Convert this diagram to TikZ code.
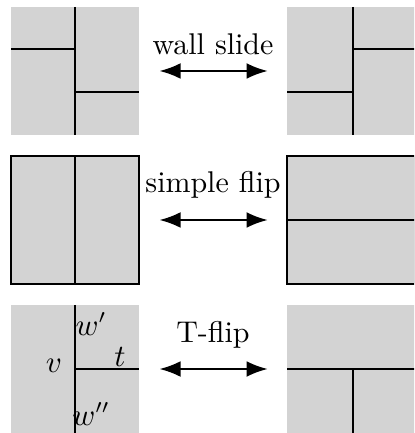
\documentclass[tikz,border=0pt]{standalone}
\usetikzlibrary{arrows.meta}
\definecolor{tilegray}{RGB}{211,211,211}
\begin{document}
\begin{tikzpicture}[x=0.3535pt,y=-0.3535pt,
  font=\fontsize{10.6}{12.7}\selectfont,
  tile/.style={fill=tilegray,draw=none,minimum size=45.25pt,inner sep=0pt,outer sep=0pt},
  btile/.style={tile,draw=black,line width=0.7pt},
  wall/.style={line width=0.7pt},
  move/.style={{Latex[length=7.5pt,width=5.6pt]}-{Latex[length=7.5pt,width=5.6pt]},line width=0.8pt,shorten <=7.2pt,shorten >=6.8pt},
  lab/.style={anchor=base,inner sep=0pt}]
\useasboundingbox (0,0) rectangle (414,433);
\clip (0,0) rectangle (414,433);
% row 1: wall slide
\node[tile] (L1) at (75,71) {};
\node[tile] (R1) at (351,71) {};
\draw[wall] (L1.north) -- (L1.south);
\draw[wall] (11,49) -- (75,49);
\draw[wall] (75,92) -- (139,92);
\draw[wall] (353,7) -- (353,135);
\draw[wall] (353,49) -- (415,49);
\draw[wall] (287,92) -- (353,92);
\draw[move] (L1.east |- 0,71) -- (R1.west |- 0,71);
\node[lab] (t1) at (213,55) {wall slide};
% row 2: simple flip
\node[btile] (L2) at (75,220) {};
\node[btile] (R2) at (351,220) {};
\draw[wall] (L2.north) -- (L2.south);
\draw[wall] (R2.west) -- (R2.east);
\draw[move] (L2.east) -- (R2.west);
\node[lab] (t2) at (213,193) {simple flip};
% row 3: T-flip
\node[tile] (L3) at (75,369) {};
\node[tile] (R3) at (351,369) {};
\draw[wall] (L3.north) -- (L3.south);
\draw[wall] (L3.center) -- (L3.east);
\draw[wall] (R3.west) -- (R3.east);
\draw[wall] (353,369) -- (353,433);
\draw[move] (L3.east) -- (R3.west);
\node[lab] (t3) at (213,342) {T-flip};
\node (v) at (54,366) {$v$};
\node (wp) at (91,324) {$w'$};
\node (t) at (120,357) {$t$};
\node (wpp) at (91,414) {$w''$};
\end{tikzpicture}
\end{document}
